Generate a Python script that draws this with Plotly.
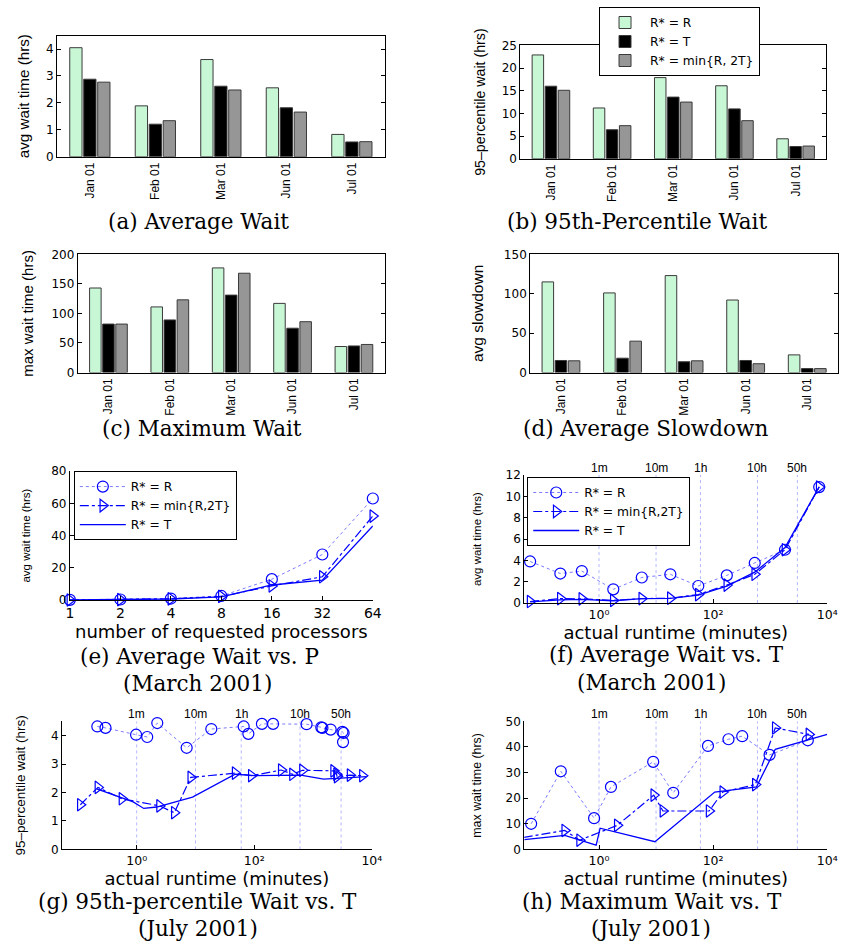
import math
import plotly.graph_objects as go

W, H = 849, 952

# ---------------- bar-chart data (per trace month) ----------------
months = ["Jan 01", "Feb 01", "Mar 01", "Jun 01", "Jul 01"]
policy_names = ["R* = R", "R* = T", "R* = min{R, 2T}"]

avg_wait_r = [4.05, 1.89, 3.61, 2.56, 0.83]
avg_wait_t = [2.88, 1.21, 2.62, 1.82, 0.55]
avg_wait_min = [2.77, 1.34, 2.48, 1.66, 0.56]

p95_wait_r = [22.9, 11.2, 17.9, 16.1, 4.4]
p95_wait_t = [16.0, 6.4, 13.6, 11.0, 2.7]
p95_wait_min = [15.1, 7.3, 12.5, 8.4, 2.8]

max_wait_r = [143, 111, 177, 117, 44]
max_wait_t = [82, 89, 131, 75, 45]
max_wait_min = [82, 123, 168, 86, 47.5]

slowdown_r = [115, 101, 123, 92, 22.4]
slowdown_t = [15.3, 18.2, 13.7, 15.3, 5.0]
slowdown_min = [14.9, 39.8, 14.9, 11.2, 5.0]

# ---------------- (e) wait vs. requested processors, March 2001 ----------------
procs = [1, 2, 4, 8, 16, 32, 64]
e_wait_r = [0.2, 0.4, 1.0, 2.6, 13.0, 28.3, 63.0]
e_wait_min = [0.1, 0.3, 0.8, 2.3, 8.8, 14.5, 52.1]
e_wait_t = [0.2, 0.3, 0.7, 2.0, 9.4, 12.4, 46.0]

# ---------------- (f) avg wait vs. runtime, March 2001 ----------------
f_runtime = [0.062, 0.21, 0.50, 1.78, 5.62, 17.8, 55.0, 174, 537, 1820, 7240]
f_wait_r = [3.9, 2.77, 3.0, 1.29, 2.4, 2.7, 1.6, 2.6, 3.76, 5.0, 10.87]
f_wait_min = [0.15, 0.42, 0.40, 0.25, 0.42, 0.46, 0.80, 1.69, 2.7, 5.0, 10.87]
f_wait_t = [0.12, 0.30, 0.35, 0.22, 0.42, 0.45, 0.75, 1.6, 2.9, 5.2, 10.9]

# ---------------- (g) 95th-percentile wait vs. runtime, July 2001 ----------------
g_runtime_r = [0.214, 0.295, 0.977, 1.51, 2.24, 7.08, 18.6, 66.1, 79.4, 135, 209,
               776, 1380, 1445, 1995, 3162, 3311, 3236]
g_wait_r = [4.32, 4.27, 4.03, 3.95, 4.44, 3.57, 4.23, 4.32, 4.06, 4.41, 4.41,
            4.40, 4.29, 4.27, 4.21, 4.13, 4.09, 3.77]
g_runtime_min = [0.110, 0.219, 0.562, 2.45, 4.37, 8.32, 47.3, 89.1, 288, 447, 661,
                 2239, 2512, 2570, 4266, 6918]
g_wait_min = [1.57, 2.18, 1.78, 1.53, 1.29, 2.53, 2.68, 2.59, 2.79, 2.64, 2.78,
              2.76, 2.64, 2.56, 2.61, 2.59]
g_runtime_t = [0.209, 0.871, 1.32, 2.19, 8.91, 47.3, 102, 617, 1514, 2239, 8128]
g_wait_t = [2.13, 1.67, 1.44, 1.49, 1.84, 2.64, 2.59, 2.61, 2.47, 2.49, 2.56]

# ---------------- (h) max wait vs. runtime, July 2001 ----------------
h_runtime_r = [0.0646, 0.214, 0.820, 1.62, 8.91, 20.0, 81.3, 186, 324, 977, 4571]
h_wait_r = [10.0, 30.5, 12.2, 24.4, 34.2, 22.1, 40.4, 43.0, 44.2, 36.9, 42.6]
h_runtime_min = [0.0479, 0.251, 0.457, 2.09, 9.12, 13.2, 85.1, 148, 550, 1230, 4786]
h_wait_min = [4.7, 7.4, 3.6, 9.4, 21.2, 15.0, 15.0, 22.4, 25.3, 47.4, 44.9]
h_runtime_t = [0.049, 0.251, 0.891, 1.047, 9.55, 58.9, 107, 575, 1230, 10000]
h_wait_t = [3.8, 5.5, 1.7, 8.3, 3.0, 17.5, 22.4, 24.4, 39.1, 44.9]

# runtime reference marks (minutes) drawn as dotted verticals
ref_minutes = [1, 10, 60, 600, 3000]
ref_labels = ["1m", "10m", "1h", "10h", "50h"]

# runtime axis ticks (minutes, log scale)
runtime_tickvals = [1, 100, 10000]
runtime_ticktext = ["10\u2070", "10\u00b2", "10\u2074"]

# ---------------- styling ----------------
BAR_COLORS = ["#c8f7d6", "#000000", "#969696"]
BLUE = "#0000ff"
NARROW = "Liberation Sans, Arial, sans-serif"
WIDE = "DejaVu Sans, sans-serif"
SANS = "Liberation Sans, Arial, sans-serif"
SERIF = "DejaVu Serif, serif"


def xdom(left, right):
    return [left / W, right / W]


def ydom(top, bottom):
    return [1 - bottom / H, 1 - top / H]


fig = go.Figure()
annotations = []

# ---------------- bar panels (a)-(d) ----------------
bar_panels = [
    (1, [avg_wait_r, avg_wait_t, avg_wait_min]),
    (2, [p95_wait_r, p95_wait_t, p95_wait_min]),
    (3, [max_wait_r, max_wait_t, max_wait_min]),
    (4, [slowdown_r, slowdown_t, slowdown_min]),
]
for idx, series in bar_panels:
    for name, vals, col in zip(policy_names, series, BAR_COLORS):
        fig.add_trace(go.Bar(
            x=months, y=vals, name=name,
            marker=dict(color=col, line=dict(color="#3a3a3a", width=1)),
            xaxis=f"x{idx}", yaxis=f"y{idx}",
            showlegend=(idx == 2), legend="legend",
        ))

# ---------------- line panels (e)-(h) ----------------
def add_refs(idx, ymax):
    xs, ys = [], []
    for m in ref_minutes:
        xs += [m, m, None]
        ys += [0, ymax, None]
    fig.add_trace(go.Scatter(
        x=xs, y=ys, mode="lines", showlegend=False, hoverinfo="skip",
        line=dict(color="#b4b8ff", width=1, dash="dot"),
        xaxis=f"x{idx}", yaxis=f"y{idx}",
    ))
    for m, lab in zip(ref_minutes, ref_labels):
        annotations.append(dict(
            text=lab, x=math.log10(m), y=1, xref=f"x{idx}", yref=f"y{idx} domain",
            xanchor="center", yanchor="bottom", showarrow=False, yshift=-2,
            font=dict(family=SANS, size=12, color="black"),
        ))


def add_policy_lines(idx, xr, yr, xm, ym, xt, yt, legend_name, show):
    fig.add_trace(go.Scatter(
        x=xr, y=yr, mode="lines+markers", name="R* = R",
        line=dict(color="#7a7aff", width=1, dash="dot"),
        marker=dict(symbol="circle-open", size=11, color=BLUE,
                    line=dict(color=BLUE, width=1.2)),
        xaxis=f"x{idx}", yaxis=f"y{idx}", cliponaxis=False,
        showlegend=show, legend=legend_name,
    ))
    fig.add_trace(go.Scatter(
        x=xm, y=ym, mode="lines+markers", name="R* = min{R,2T}",
        line=dict(color=BLUE, width=1.2, dash="dashdot"),
        marker=dict(symbol="triangle-right-open", size=11, color=BLUE,
                    line=dict(color=BLUE, width=1.2)),
        xaxis=f"x{idx}", yaxis=f"y{idx}", cliponaxis=False,
        showlegend=show, legend=legend_name,
    ))
    fig.add_trace(go.Scatter(
        x=xt, y=yt, mode="lines", name="R* = T",
        line=dict(color=BLUE, width=1.3),
        xaxis=f"x{idx}", yaxis=f"y{idx}", cliponaxis=False,
        showlegend=show, legend=legend_name,
    ))


add_policy_lines(5, procs, e_wait_r, procs, e_wait_min, procs, e_wait_t, "legend2", True)

add_refs(6, 12)
add_policy_lines(6, f_runtime, f_wait_r, f_runtime, f_wait_min, f_runtime, f_wait_t, "legend3", True)

add_refs(7, 4.5)
add_policy_lines(7, g_runtime_r, g_wait_r, g_runtime_min, g_wait_min, g_runtime_t, g_wait_t, "legend", False)

add_refs(8, 50)
add_policy_lines(8, h_runtime_r, h_wait_r, h_runtime_min, h_wait_min, h_runtime_t, h_wait_t, "legend", False)

# ---------------- axes ----------------
axis_line = dict(showline=True, linecolor="black", linewidth=1, showgrid=False,
                 zeroline=False, ticks="inside", ticklen=4, tickcolor="black")

bar_layout = {
    1: dict(x=xdom(54, 387), y=ydom(29, 152), rng=[0, 4.5], tv=[0, 1, 2, 3, 4],
            title="avg wait time (hrs)", st=12, fs=15.2),
    2: dict(x=xdom(525, 836), y=ydom(39, 154), rng=[0, 25], tv=[0, 5, 10, 15, 20, 25],
            title="95\u2013percentile wait (hrs)", st=12, fs=14.2),
    3: dict(x=xdom(75, 387), y=ydom(251, 371), rng=[0, 200], tv=[0, 50, 100, 150, 200],
            title="max wait time (hrs)", st=14, fs=15),
    4: dict(x=xdom(535, 848), y=ydom(251, 371), rng=[0, 150], tv=[0, 50, 100, 150],
            title="avg slowdown", st=16, fs=15.5),
}
layout_axes = {}
for idx, c in bar_layout.items():
    layout_axes[f"xaxis{idx}"] = dict(
        domain=c["x"], anchor=f"y{idx}", type="category", tickangle=-90,
        showline=True, linecolor="black", linewidth=1, mirror=True,
        showgrid=False, zeroline=False, ticks="",
        tickfont=dict(family=NARROW, size=12, color="black"),
    )
    layout_axes[f"yaxis{idx}"] = dict(
        domain=c["y"], anchor=f"x{idx}", range=c["rng"], tickvals=c["tv"],
        mirror="ticks", **axis_line,
        tickfont=dict(family=WIDE, size=12, color="black"),
        title=dict(text=c["title"], standoff=c["st"],
                   font=dict(family=NARROW, size=c["fs"], color="black")),
    )

runtime_ticks = dict(type="log", tickvals=runtime_tickvals, ticktext=runtime_ticktext,
                     tickfont=dict(family=WIDE, size=12.5, color="black"))
line_layout = {
    5: dict(x=xdom(67, 375), y=ydom(471, 602), xr=[0, 1.80618], yr=[0, 80],
            yt=[0, 20, 40, 60, 80], yl="avg wait time (hrs)",
            xl="number of requested processors", st=18, fs=11.5,
            xextra=dict(type="log", tickvals=procs, ticktext=[str(p) for p in procs],
                        tickfont=dict(family=WIDE, size=14, color="black"))),
    6: dict(x=xdom(529, 837), y=ydom(475, 605), xr=[-1.31, 4], yr=[0, 12],
            yt=[0, 2, 4, 6, 8, 10, 12], yl="avg wait time (hrs)",
            xl="actual runtime (minutes)", st=21, fs=11.5, xextra=runtime_ticks),
    7: dict(x=xdom(59, 374), y=ydom(725, 855), xr=[-1.27, 4], yr=[0, 4.5],
            yt=[0, 1, 2, 3, 4], yl="95\u2013percentile wait (hrs)",
            xl="actual runtime (minutes)", st=22, fs=13.5, xextra=runtime_ticks),
    8: dict(x=xdom(529, 837), y=ydom(725, 855), xr=[-1.31, 4], yr=[0, 50],
            yt=[0, 10, 20, 30, 40, 50], yl="max wait time (hrs)",
            xl="actual runtime (minutes)", st=21, fs=12.4, xextra=runtime_ticks),
}
for idx, c in line_layout.items():
    layout_axes[f"xaxis{idx}"] = dict(
        domain=c["x"], anchor=f"y{idx}", range=c["xr"], **axis_line, **c["xextra"],
        title=dict(text=c["xl"], standoff=2,
                   font=dict(family=WIDE, size=18, color="black")),
    )
    layout_axes[f"yaxis{idx}"] = dict(
        domain=c["y"], anchor=f"x{idx}", range=c["yr"], tickvals=c["yt"], **axis_line,
        tickfont=dict(family=WIDE, size=12, color="black"),
        title=dict(text=c["yl"], standoff=c["st"],
                   font=dict(family=NARROW, size=c["fs"], color="black")),
    )

# ---------------- sub-figure captions ----------------
captions = [
    ("(a) Average Wait", 198, 218),
    ("(b) 95th-Percentile Wait", 644, 218),
    ("(c) Maximum Wait", 201, 428),
    ("(d) Average Slowdown", 652, 428),
    ("(e) Average Wait vs. P", 199, 659),
    ("(March 2001)", 197, 687),
    ("(f) Average Wait vs. T", 674, 657),
    ("(March 2001)", 658, 686),
    ("(g) 95th-percentile Wait vs. T", 197, 908),
    ("(July 2001)", 197, 935),
    ("(h) Maximum Wait vs. T", 659, 908),
    ("(July 2001)", 658, 935),
]
annotations += [
    dict(text=t, x=cx / W, y=1 - cy / H, xref="paper", yref="paper",
         xanchor="center", yanchor="middle", showarrow=False,
         font=dict(family=SERIF, size=21.5, color="black"))
    for t, cx, cy in captions
]

legend_box = dict(bgcolor="white", bordercolor="black", borderwidth=1,
                  xanchor="left", yanchor="top", tracegroupgap=0)

fig.update_layout(
    width=W, height=H, autosize=False,
    margin=dict(l=0, r=0, t=0, b=0),
    paper_bgcolor="white", plot_bgcolor="white",
    barmode="group", bargap=0.36, bargroupgap=0.12,
    legend=dict(legend_box, x=605 / W, y=1, itemwidth=40,
                font=dict(family=WIDE, size=12.3, color="black")),
    legend2=dict(legend_box, x=71 / W, y=1 - 471 / H, itemwidth=46,
                 font=dict(family=WIDE, size=12.3, color="black")),
    legend3=dict(legend_box, x=532 / W, y=1 - 477 / H, itemwidth=46,
                 font=dict(family=WIDE, size=12.3, color="black")),
    annotations=annotations,
    **layout_axes,
)

fig.write_html("out.html")
